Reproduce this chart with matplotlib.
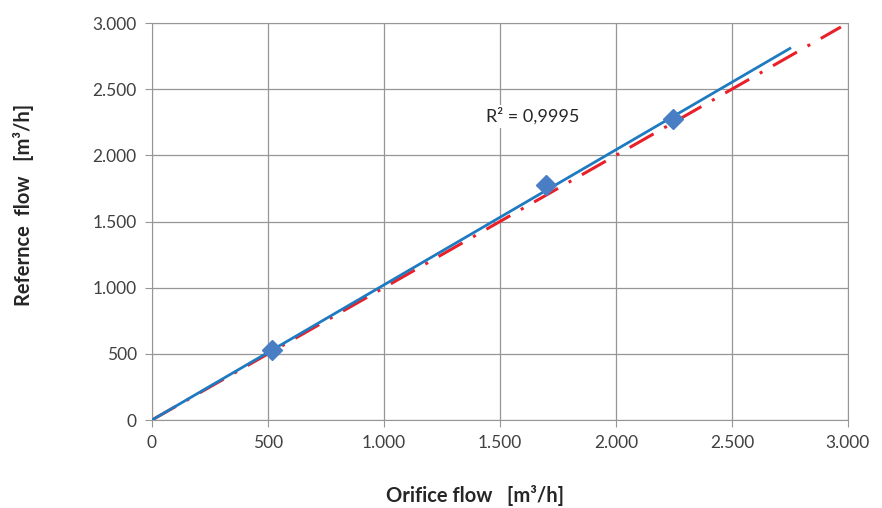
import numpy as np
import matplotlib.pyplot as plt
from matplotlib.ticker import FuncFormatter

plt.rcParams['font.family'] = ['Lato', 'DejaVu Sans']

# ── data ─────────────────────────────────────────────
orifice_flow = [516, 1698, 2247]
reference_flow = [530, 1773, 2278]
trend_x = [0, 2750]
trend_slope = 1.021
ideal_x = [0, 2970]
r2_text = "R² = 0,9995"

ticks = [0, 500, 1000, 1500, 2000, 2500, 3000]

def dot_thousands(v, pos):
    return f"{int(v):,}".replace(",", ".")

fig = plt.figure(figsize=(8.82, 5.08), dpi=100)
ax = fig.add_axes([0.1723, 0.1732, 0.789, 0.7815])

ax.plot(ideal_x, ideal_x, color='#E8202A', lw=2.2, linestyle=(0, (9, 4, 1, 4)), zorder=2)
ax.plot(trend_x, [trend_slope * v for v in trend_x], color='#1F7BC1', lw=2, zorder=3)
ax.plot(orifice_flow, reference_flow, linestyle='none', marker='D', markersize=10,
        color='#4A7EC4', zorder=4)

ax.text(1642, 2295, r2_text, ha='center', va='center', fontsize=13, color='#262626',
        bbox=dict(facecolor='white', edgecolor='none', pad=2), zorder=5)

ax.set_xlim(0, 3000)
ax.set_ylim(0, 3000)
ax.set_xticks(ticks)
ax.set_yticks(ticks)
ax.xaxis.set_major_formatter(FuncFormatter(dot_thousands))
ax.yaxis.set_major_formatter(FuncFormatter(dot_thousands))
ax.grid(True, color='#969696', lw=0.9)
ax.set_axisbelow(True)
for s in ax.spines.values():
    s.set_color('#969696')
ax.tick_params(axis='both', colors='#969696', labelcolor='#404040', labelsize=12.5,
               direction='out', length=5, pad=6)

ax.set_xlabel('Orifice flow   [m³/h]', fontsize=14.5, fontweight='bold', color='#262626')
ax.set_ylabel('Refernce  flow   [m³/h]', fontsize=14.5, fontweight='bold', color='#262626')
ax.xaxis.set_label_coords(0.464, -0.189)
ax.yaxis.set_label_coords(-0.185, 0.542)
ax.xaxis.label.set_va('center')
ax.yaxis.label.set_va('center')

fig.savefig('out.png', dpi=100)
